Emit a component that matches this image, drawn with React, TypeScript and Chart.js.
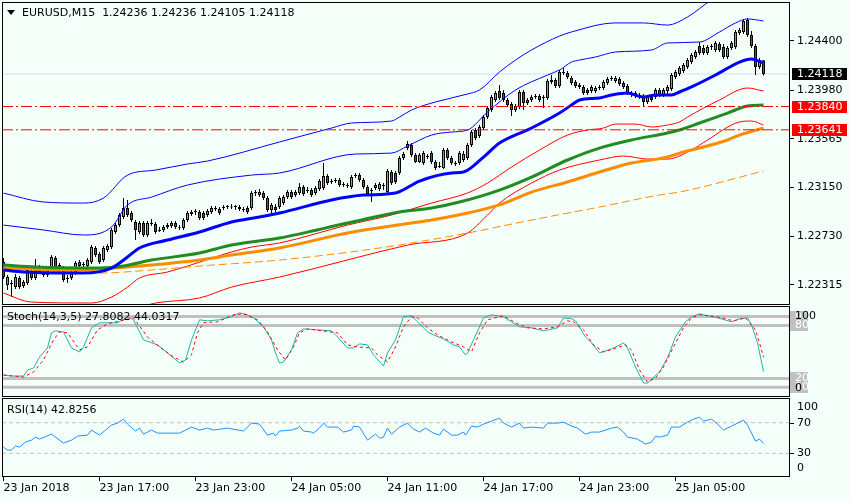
import React, { useEffect, useRef } from "react";
import { Chart, registerables } from "chart.js";

Chart.register(...registerables);

const FONT = '"DejaVu Sans", Verdana, sans-serif';
const BG = "#F5FFFA";

// ---------- texts ----------
const symbolTitle = "EURUSD,M15  1.24236 1.24236 1.24105 1.24118";
const stochTitle = "Stoch(14,3,5) 27.8082 44.0317";
const rsiTitle = "RSI(14) 42.8256";
const timeLabels = ["23 Jan 2018", "23 Jan 17:00", "23 Jan 23:00", "24 Jan 05:00", "24 Jan 11:00", "24 Jan 17:00", "24 Jan 23:00", "25 Jan 05:00"];
const timeTickBars = [0, 24, 48, 72, 96, 120, 144, 168];
const priceTicks = [1.244, 1.2398, 1.23565, 1.2315, 1.2273, 1.22315];
const stochLevels = [90, 80, 20, 10];
const stochScaleLabels = ["100", "0"];
const rsiLevels = [70, 30];
const rsiScaleLabels = ["100", "0"];

// ---------- candles (M15 bars) ----------
const opens = [
  1.22511,1.22314,1.22331,1.22297,1.22375,1.22306,1.22331,1.22426,1.22375,1.22468,
  1.22426,1.22400,1.22460,1.22546,1.22485,1.22460,1.22366,1.22375,1.22417,1.22511,
  1.22485,1.22477,1.22511,1.22631,1.22580,1.22528,1.22614,1.22639,1.22768,1.22827,
  1.22896,1.22973,1.22930,1.22853,1.22768,1.22844,1.22742,1.22836,1.22836,1.22776,
  1.22785,1.22810,1.22819,1.22844,1.22802,1.22802,1.22870,1.22922,1.22939,1.22939,
  1.22930,1.22913,1.22939,1.22964,1.22964,1.22973,1.22981,1.22981,1.22981,1.22981,
  1.22956,1.22973,1.22973,1.23101,1.23083,1.23101,1.23058,1.22956,1.22981,1.22981,
  1.23015,1.23066,1.23109,1.23083,1.23101,1.23152,1.23118,1.23126,1.23101,1.23135,
  1.23143,1.23246,1.23195,1.23203,1.23212,1.23169,1.23160,1.23152,1.23246,1.23254,
  1.23212,1.23152,1.23118,1.23143,1.23135,1.23160,1.23109,1.23280,1.23271,1.23271,
  1.23400,1.23486,1.23511,1.23425,1.23366,1.23357,1.23408,1.23442,1.23366,1.23323,
  1.23314,1.23468,1.23400,1.23357,1.23357,1.23383,1.23400,1.23511,1.23639,1.23588,
  1.23656,1.23750,1.23810,1.23896,1.23973,1.23955,1.23896,1.23862,1.23810,1.23836,
  1.23964,1.23870,1.23896,1.23921,1.23930,1.23913,1.23913,1.24049,1.24066,1.24015,
  1.24135,1.24126,1.24083,1.24049,1.24024,1.24007,1.23981,1.23973,1.23973,1.23998,
  1.23998,1.24041,1.24075,1.24058,1.24075,1.24041,1.24015,1.23955,1.23955,1.23938,
  1.23930,1.23879,1.23921,1.23921,1.23981,1.23938,1.23973,1.23990,1.24092,1.24118,
  1.24143,1.24177,1.24220,1.24263,1.24357,1.24340,1.24297,1.24348,1.24323,1.24374,
  1.24348,1.24263,1.24340,1.24348,1.24468,1.24477,1.24579,1.24451,1.24357,1.24177,
  1.24236,
];
const highs = [
  1.22546,1.22400,1.22357,1.22409,1.22392,1.22357,1.22460,1.22443,1.22537,1.22485,
  1.22443,1.22477,1.22571,1.22563,1.22502,1.22477,1.22400,1.22434,1.22519,1.22528,
  1.22511,1.22546,1.22656,1.22648,1.22597,1.22648,1.22665,1.22802,1.22844,1.22930,
  1.23058,1.23041,1.22947,1.22870,1.22861,1.22861,1.22861,1.22879,1.22853,1.22810,
  1.22827,1.22844,1.22861,1.22861,1.22827,1.22887,1.22947,1.22956,1.22964,1.22956,
  1.22947,1.22964,1.22990,1.22990,1.22981,1.22999,1.22999,1.23007,1.22999,1.22999,
  1.22981,1.22990,1.23118,1.23126,1.23135,1.23118,1.23075,1.23015,1.23007,1.23075,
  1.23083,1.23126,1.23126,1.23126,1.23186,1.23169,1.23152,1.23143,1.23160,1.23220,
  1.23357,1.23263,1.23220,1.23229,1.23229,1.23195,1.23186,1.23254,1.23272,1.23272,
  1.23229,1.23169,1.23143,1.23186,1.23195,1.23186,1.23306,1.23297,1.23289,1.23417,
  1.23451,1.23545,1.23528,1.23442,1.23442,1.23459,1.23434,1.23459,1.23383,1.23366,
  1.23486,1.23486,1.23417,1.23374,1.23459,1.23459,1.23528,1.23639,1.23656,1.23682,
  1.23767,1.23844,1.23938,1.23973,1.24024,1.23981,1.23913,1.23879,1.23862,1.23981,
  1.23981,1.23913,1.23938,1.23947,1.23947,1.23938,1.24075,1.24109,1.24083,1.24152,
  1.24169,1.24143,1.24100,1.24066,1.24041,1.24024,1.23998,1.24024,1.24015,1.24024,
  1.24066,1.24092,1.24100,1.24100,1.24092,1.24058,1.24032,1.23973,1.23973,1.23955,
  1.23947,1.23938,1.23938,1.23998,1.23998,1.23998,1.24024,1.24126,1.24152,1.24186,
  1.24212,1.24254,1.24297,1.24323,1.24391,1.24366,1.24366,1.24374,1.24400,1.24391,
  1.24374,1.24357,1.24400,1.24494,1.24511,1.24588,1.24596,1.24485,1.24374,1.24254,
  1.24236,
];
const lows = [
  1.22366,1.22272,1.22212,1.22280,1.22280,1.22289,1.22314,1.22357,1.22357,1.22409,
  1.22383,1.22383,1.22443,1.22451,1.22426,1.22340,1.22331,1.22357,1.22400,1.22460,
  1.22468,1.22460,1.22494,1.22554,1.22494,1.22511,1.22597,1.22622,1.22751,1.22810,
  1.22879,1.22896,1.22853,1.22699,1.22751,1.22725,1.22725,1.22819,1.22751,1.22768,
  1.22768,1.22793,1.22802,1.22793,1.22785,1.22785,1.22853,1.22905,1.22913,1.22870,
  1.22870,1.22896,1.22922,1.22947,1.22913,1.22956,1.22964,1.22964,1.22956,1.22947,
  1.22939,1.22922,1.22956,1.23075,1.23066,1.23041,1.22939,1.22922,1.22939,1.22964,
  1.22999,1.23049,1.23049,1.23066,1.23083,1.23075,1.23101,1.23066,1.23083,1.23118,
  1.23126,1.23169,1.23178,1.23186,1.23152,1.23152,1.23143,1.23135,1.23229,1.23195,
  1.23135,1.23075,1.23024,1.23126,1.23118,1.23126,1.23092,1.23169,1.23178,1.23254,
  1.23383,1.23468,1.23408,1.23357,1.23357,1.23340,1.23391,1.23349,1.23297,1.23314,
  1.23306,1.23383,1.23340,1.23331,1.23340,1.23366,1.23383,1.23494,1.23554,1.23571,
  1.23639,1.23733,1.23793,1.23879,1.23896,1.23879,1.23836,1.23759,1.23793,1.23819,
  1.23810,1.23853,1.23879,1.23904,1.23879,1.23827,1.23896,1.24032,1.23998,1.23998,
  1.24109,1.24075,1.24024,1.23998,1.23990,1.23938,1.23938,1.23955,1.23955,1.23981,
  1.23981,1.24024,1.24058,1.24041,1.24015,1.23990,1.23938,1.23921,1.23913,1.23904,
  1.23836,1.23862,1.23879,1.23904,1.23921,1.23921,1.23947,1.23973,1.24075,1.24100,
  1.24126,1.24160,1.24203,1.24246,1.24280,1.24280,1.24280,1.24323,1.24306,1.24306,
  1.24246,1.24246,1.24323,1.24331,1.24451,1.24460,1.24434,1.24340,1.24109,1.24160,
  1.24105,
];
const closes = [
  1.22383,1.22383,1.22323,1.22383,1.22297,1.22340,1.22443,1.22375,1.22460,1.22426,
  1.22400,1.22460,1.22554,1.22468,1.22443,1.22357,1.22375,1.22417,1.22502,1.22477,
  1.22494,1.22528,1.22639,1.22571,1.22511,1.22631,1.22648,1.22785,1.22827,1.22913,
  1.22973,1.22913,1.22870,1.22785,1.22844,1.22742,1.22844,1.22844,1.22768,1.22785,
  1.22810,1.22827,1.22844,1.22810,1.22799,1.22870,1.22930,1.22939,1.22942,1.22887,
  1.22887,1.22947,1.22973,1.22967,1.22930,1.22981,1.22984,1.22978,1.22984,1.22964,
  1.22959,1.22939,1.23101,1.23104,1.23109,1.23058,1.22956,1.22999,1.22956,1.23058,
  1.23066,1.23109,1.23066,1.23109,1.23152,1.23092,1.23126,1.23083,1.23143,1.23203,
  1.23246,1.23186,1.23203,1.23206,1.23169,1.23172,1.23163,1.23237,1.23254,1.23212,
  1.23152,1.23092,1.23126,1.23169,1.23178,1.23163,1.23289,1.23186,1.23195,1.23400,
  1.23434,1.23520,1.23425,1.23366,1.23425,1.23442,1.23411,1.23366,1.23314,1.23331,
  1.23468,1.23400,1.23357,1.23349,1.23442,1.23434,1.23511,1.23622,1.23571,1.23665,
  1.23750,1.23827,1.23921,1.23955,1.23913,1.23896,1.23853,1.23810,1.23844,1.23964,
  1.23870,1.23896,1.23921,1.23924,1.23896,1.23921,1.24058,1.24066,1.24015,1.24135,
  1.24126,1.24092,1.24041,1.24015,1.24007,1.23955,1.23955,1.24007,1.23998,1.24001,
  1.24049,1.24075,1.24078,1.24083,1.24032,1.24007,1.23955,1.23938,1.23930,1.23921,
  1.23879,1.23921,1.23896,1.23981,1.23938,1.23981,1.24007,1.24109,1.24135,1.24169,
  1.24195,1.24237,1.24280,1.24306,1.24297,1.24297,1.24348,1.24351,1.24383,1.24323,
  1.24263,1.24340,1.24383,1.24477,1.24494,1.24571,1.24451,1.24357,1.24177,1.24237,
  1.24118,
];

// ---------- indicator lines: [bar index, value] ----------
const bbOuter = [[0,1.231],[10,1.23024],[20,1.23015],[25,1.23058],[31,1.23254],[38,1.23297],[46,1.23349],[51,1.23374],[69,1.23537],[82,1.23656],[87,1.23699],[97,1.23716],[99,1.2375],[102,1.2381],[108,1.23879],[116,1.23947],[119,1.23981],[124,1.24135],[128,1.24237],[132,1.24323],[139,1.24442],[142,1.24477],[153,1.24554],[160,1.24554],[166,1.24536],[171,1.24605],[177,1.2475],[182,1.24835]];
const bbInner = [[0,1.22827],[10,1.22785],[20,1.22742],[27,1.2281],[31,1.22999],[37,1.23066],[46,1.23169],[62,1.23254],[69,1.23272],[88,1.23434],[97,1.23442],[101,1.23502],[107,1.23596],[112,1.23622],[116,1.23639],[121,1.23793],[128,1.23981],[136,1.24109],[139,1.24152],[142,1.2422],[144,1.24237],[148,1.24263],[153,1.24306],[162,1.24323],[166,1.24383],[174,1.24391],[179,1.24477],[183,1.24554],[186,1.24588],[190,1.24571]];
const bbMiddle = [[0,1.22443],[5,1.22426],[20,1.22417],[27,1.2246],[31,1.22554],[34,1.22631],[41,1.22699],[49,1.22768],[57,1.22853],[64,1.22896],[69,1.2293],[82,1.23041],[90,1.23083],[98,1.23101],[104,1.23203],[112,1.23272],[115,1.2328],[120,1.23408],[124,1.23528],[132,1.23656],[139,1.23784],[142,1.23853],[144,1.23896],[149,1.23913],[152,1.23938],[156,1.23955],[160,1.23921],[163,1.23938],[167,1.23938],[169,1.23964],[172,1.24007],[178,1.24109],[184,1.2422],[187,1.24246],[190,1.24212]];
const greenMA = [[0,1.22485],[8,1.22468],[24,1.2246],[30,1.22477],[37,1.22528],[49,1.22588],[57,1.22656],[69,1.22716],[86,1.22844],[99,1.22939],[107,1.22973],[114,1.23024],[124,1.23126],[132,1.23237],[141,1.23383],[149,1.23485],[157,1.23554],[166,1.23614],[169,1.23639],[174,1.23699],[181,1.23784],[186,1.23844],[190,1.23853]];
const orangeMA = [[0,1.2246],[16,1.22443],[24,1.22451],[37,1.22485],[49,1.22528],[57,1.22571],[69,1.22631],[86,1.22759],[102,1.22844],[107,1.2287],[116,1.2293],[124,1.22999],[132,1.23109],[141,1.23195],[149,1.2328],[157,1.23357],[162,1.23383],[166,1.23408],[169,1.23442],[172,1.23468],[181,1.23554],[184,1.23596],[190,1.23656]];
const orangeSlowMA = [[0,1.2246],[24,1.22417],[37,1.22443],[49,1.22477],[69,1.22528],[94,1.22631],[116,1.22759],[132,1.2287],[149,1.22981],[164,1.23084],[169,1.23109],[190,1.23289]];
const redBandUpper = [[0,1.22246],[7,1.22169],[22,1.22161],[27,1.22212],[31,1.22297],[34,1.22375],[41,1.22426],[46,1.22477],[57,1.22597],[62,1.22639],[69,1.22674],[86,1.22827],[97,1.22913],[107,1.23015],[116,1.23101],[121,1.23186],[127,1.23323],[134,1.23468],[141,1.23596],[146,1.23639],[150,1.23656],[153,1.2369],[158,1.2369],[162,1.23665],[166,1.23682],[169,1.23708],[171,1.2375],[179,1.23896],[186,1.23998],[190,1.23972]];
const redBandLower = [[35,1.22135],[38,1.22161],[49,1.22204],[57,1.22297],[69,1.22383],[101,1.22656],[116,1.22759],[121,1.22913],[124,1.23015],[132,1.23186],[139,1.23297],[149,1.23383],[155,1.23417],[161,1.23391],[166,1.23391],[172,1.23468],[176,1.23554],[184,1.23708],[187,1.23716],[190,1.23682]];
const levelPrices = [1.2384, 1.23641];
const bidPrice = 1.24118;

// ---------- oscillators: [bar index, value] ----------
const stochMain = [[0,23.9],[2,22.7],[5,22.7],[6,29.5],[7.5,31.8],[9,44.3],[11,54.5],[12,71.6],[13,73.9],[15,72.7],[17,54.5],[19,50],[20,55.7],[22,77.3],[24,83],[28.5,83],[31,89.8],[32.5,86.4],[35,63.6],[38.5,58],[41,48.9],[44,37.5],[45.5,40.9],[47,63.6],[49,86.4],[51,85.2],[54,86.4],[57,89.8],[59,94.3],[61,92],[62.5,88.6],[65,78.4],[67,63.6],[68,48.9],[69,37.5],[70,38.6],[72,52.3],[73.5,71.6],[75,76.1],[82,73.9],[83.5,67],[86,54.5],[87.5,54.5],[89,59.1],[91,58],[92.5,46.6],[95,34.1],[96,48.9],[98,63.6],[100,89.8],[102,90.9],[103.5,84.1],[106,72.7],[107.5,69.3],[110,64.8],[112.5,58],[114,55.7],[115.5,46.6],[116,48.9],[117.5,63.6],[120,88.6],[122,92],[125,89.8],[127,84.1],[129,78.4],[132,77.3],[135,73.9],[138.5,77.3],[140,88.6],[142,87.5],[143,85.2],[145.5,67],[147,60.2],[149,48.9],[152,53.4],[155,60.2],[156,54.5],[158,33],[160,14.8],[161,14.8],[164,27.3],[166,43.2],[168,67],[170.5,84.1],[172,89.8],[174,93.2],[176,90.9],[178.5,88.6],[182,84.1],[184,87.5],[186,88.6],[187,80.7],[188.5,60.2],[190,27.8082]];
const stochSignal = [[0,23.9],[5,21.6],[7.5,27.3],[10,40.9],[12.5,63.6],[14,72.7],[16,71.6],[19,52.3],[21,55.7],[23.5,75],[26,81.8],[32.5,88.6],[36,67],[39,55.7],[42.5,44.3],[45,38.6],[47,46.6],[48.5,71.6],[50,83],[53.5,84.1],[57.5,92],[60,93.2],[63.5,86.4],[66,72.7],[68.5,52.3],[70.5,40.9],[72.5,55.7],[74,71.6],[76,76.1],[83.5,71.6],[86,58],[88.5,55.7],[92,54.5],[93.5,46.6],[96,38.6],[98,55.7],[100,78.4],[102,89.8],[103.5,88.6],[106,77.3],[108.5,69.3],[112,61.4],[115,55.7],[117,50],[119,71.6],[121,86.4],[125,90.9],[128.5,81.8],[131,77.3],[135,76.1],[138.5,78.4],[141,85.2],[142.5,84.1],[145,75],[147.5,58],[150,50],[152.5,53.4],[155.5,58],[157,52.3],[159,29.5],[161,15.9],[163,20.5],[165,33],[167.5,55.7],[170,77.3],[172,88.6],[174,92],[178.5,89.8],[182.5,85.2],[185.5,88.6],[188,75],[189,60.2],[190,44.0317]];
const rsiValues = [[0,38.2],[1,34.3],[2,34.3],[3,39.5],[4,38.2],[5.5,44.7],[7,47.3],[8,51.2],[9,48.6],[12,55.1],[13,51.2],[15,43.4],[17,47.3],[18.5,52.5],[21,53.8],[22,60.4],[24,53.8],[25.5,60.4],[27,66.9],[28.5,69.5],[30,74.7],[31,68.2],[33,59.1],[34,63],[35,55.1],[37,60.4],[38.5,56.4],[41,56.4],[44,56.4],[47,64.3],[49,60.4],[51,63],[52.5,60.4],[56,63],[60,59.1],[62,69.5],[64,68.2],[66,53.8],[67.5,56.4],[68,52.5],[69,59.1],[72,60.4],[73.5,63],[74,65.6],[75,59.1],[77,57.8],[77.5,56.4],[79,63],[80,69.5],[81,64.3],[83.5,64.3],[85,57.8],[87,60.4],[87.5,65.6],[89,64.3],[91,47.3],[93,55.1],[94,49.9],[95,51.2],[96,63],[97,55.1],[99,64.3],[101,69.5],[102.5,61.7],[104,57.8],[105.5,63],[107.5,56.4],[109,53.8],[110,61.7],[112,53.8],[113.5,53.8],[115,57.8],[115.5,53.8],[117,65.6],[118.5,64.3],[120,68.2],[122,72.1],[124,76],[125,69.5],[127,64.3],[129,69.5],[130,63],[132,64.3],[135,63],[136,69.5],[138.5,69.5],[140,70.8],[142,65.6],[143.5,63],[145.5,55.1],[147,57.8],[149,57.8],[152,63],[153.5,64.3],[155,57.8],[156,51.2],[158.5,48.6],[160.5,42.1],[162,44.7],[163,52.5],[164,51.2],[166,53.8],[167,64.3],[169,64.3],[171,70.8],[172.5,74.7],[174,77.3],[175,72.1],[177,74.7],[178.5,68.2],[180,60.4],[182,65.6],[183.5,69.5],[185,73.4],[186,66.9],[188,46],[189,48.6],[190,42.8256]];

// ---------- scale domains ----------
const X_MIN = -0.375;
const X_MAX = 196.625;
const PRICE_MIN = 1.22144;
const PRICE_MAX = 1.24733;

const BULL = "#3CD23C";
const BEAR = "#D02020";

const xy = (pts: number[][]) => pts.map(([x, y]) => ({ x, y }));
const hline = (v: number) => [{ x: X_MIN, y: v }, { x: X_MAX, y: v }];
const lineDs = (label: string, data: any[], color: string, width: number, order: number, dash: number[] = [], smooth = false) => ({
  type: "line",
  label,
  data,
  borderColor: color,
  borderWidth: width,
  borderDash: dash,
  pointRadius: 0,
  tension: 0,
  cubicInterpolationMode: smooth ? "monotone" : "default",
  fill: false,
  order,
  borderJoinStyle: "round",
});

const framePlugin = {
  id: "frame",
  afterDraw(chart: any) {
    const { ctx, chartArea: a } = chart;
    ctx.save();
    ctx.strokeStyle = "#000";
    ctx.lineWidth = 1;
    ctx.strokeRect(Math.round(a.left) + 0.5, Math.round(a.top) + 0.5, Math.round(a.right - a.left) - 1, Math.round(a.bottom - a.top) - 1);
    ctx.restore();
  },
};

const xHidden = { type: "linear", min: X_MIN, max: X_MAX, display: false, offset: false, grid: { offset: false } };

function mainConfig(): any {
  const wickData = opens.map((_, i) => ({ x: i, y: [lows[i], highs[i]] }));
  const bodyData = opens.map((o, i) => ({ x: i, y: [o, closes[i]] }));
  const bodyColors = opens.map((o, i) => (closes[i] >= o ? BULL : BEAR));
  const mainText = {
    id: "mainText",
    afterDraw(chart: any) {
      const { ctx, chartArea: a, scales } = chart;
      ctx.save();
      ctx.fillStyle = "#000";
      ctx.beginPath();
      ctx.moveTo(a.left + 5, a.top + 8);
      ctx.lineTo(a.left + 13, a.top + 8);
      ctx.lineTo(a.left + 9, a.top + 13);
      ctx.closePath();
      ctx.fill();
      ctx.font = `11px ${FONT}`;
      ctx.textBaseline = "middle";
      ctx.textAlign = "left";
      ctx.fillText(symbolTitle, a.left + 20, a.top + 11);
      const boxes = [
        { v: bidPrice, bg: "#000000" },
        { v: levelPrices[0], bg: "#FF0000" },
        { v: levelPrices[1], bg: "#FF0000" },
      ];
      boxes.forEach((b) => {
        const py = Math.round(scales.y.getPixelForValue(b.v));
        ctx.fillStyle = b.bg;
        ctx.fillRect(a.right + 2, py - 6, 55, 12);
        ctx.fillStyle = "#FFFFFF";
        ctx.fillText(b.v.toFixed(5), a.right + 7, py);
      });
      ctx.restore();
    },
  };
  return {
    type: "bar",
    data: {
      datasets: [
        lineDs("bid", hline(bidPrice), "#D3DBE6", 1, 40),
        { type: "bar", label: "wicks", data: wickData, backgroundColor: "#000", borderWidth: 0, barThickness: 1, grouped: false, order: 30, inflateAmount: 0 },
        { type: "bar", label: "bodies", data: bodyData, backgroundColor: bodyColors, borderColor: "#000", borderWidth: 1, borderSkipped: false, barThickness: 3, grouped: false, order: 29, minBarLength: 1, inflateAmount: 0 },
        lineDs("redLower", xy(redBandLower), "#FF0000", 1, 12, [], true),
        lineDs("redUpper", xy(redBandUpper), "#FF0000", 1, 11, [], true),
        lineDs("orangeSlow", xy(orangeSlowMA), "#FF8C00", 1, 10, [8, 4], true),
        lineDs("orange", xy(orangeMA), "#FF8C00", 3, 9, [], true),
        lineDs("green", xy(greenMA), "#228B22", 3, 8, [], true),
        lineDs("bbMid", xy(bbMiddle), "#0000FF", 3, 7, [], true),
        lineDs("bbInner", xy(bbInner), "#0000FF", 1, 6, [], true),
        lineDs("bbOuter", xy(bbOuter), "#0000FF", 1, 5, [], true),
        lineDs("level1", hline(levelPrices[0]), "#FF0000", 1, 2, [11, 3, 2, 3]),
        lineDs("level2", hline(levelPrices[1]), "#FF0000", 1, 1, [11, 3, 2, 3]),
      ],
    },
    options: {
      animation: false,
      responsive: false,
      devicePixelRatio: 1,
      events: [],
      layout: { padding: { left: 2, top: 2, right: 0, bottom: 0 } },
      plugins: { legend: { display: false }, tooltip: { enabled: false }, title: { display: false } },
      scales: {
        x: xHidden,
        y: {
          type: "linear",
          position: "right",
          min: PRICE_MIN,
          max: PRICE_MAX,
          afterBuildTicks: (s: any) => {
            s.ticks = priceTicks.map((v) => ({ value: v }));
          },
          afterFit: (s: any) => {
            s.width = 60;
            s.paddingTop = 0;
            s.paddingBottom = 0;
          },
          ticks: { autoSkip: false, padding: 3, color: "#000", font: { family: FONT, size: 11 }, callback: (v: any) => Number(v).toFixed(5) },
          grid: { drawOnChartArea: false, drawTicks: true, tickLength: 4, color: "#000", tickColor: "#000" },
          border: { display: false },
        },
      },
    },
    plugins: [framePlugin, mainText],
  };
}

function stochConfig(): any {
  const stochText = {
    id: "stochText",
    afterDraw(chart: any) {
      const { ctx, chartArea: a, scales } = chart;
      ctx.save();
      ctx.font = `11px ${FONT}`;
      ctx.textBaseline = "middle";
      ctx.textAlign = "left";
      ctx.fillStyle = "#000";
      ctx.fillText(stochTitle, a.left + 5, a.top + 11);
      stochLevels.forEach((v) => {
        const py = Math.round(scales.y.getPixelForValue(v));
        ctx.fillStyle = "#C0C0C0";
        ctx.fillRect(a.right, py - 6, 18, 12);
        ctx.fillStyle = "#FFFFFF";
        ctx.fillText(String(v), a.right + 5, py);
      });
      ctx.fillStyle = "#000";
      ctx.fillText(stochScaleLabels[0], a.right + 5, a.top + 10);
      ctx.fillText(stochScaleLabels[1], a.right + 5, a.bottom - 9);
      ctx.restore();
    },
  };
  return {
    type: "line",
    data: {
      datasets: [
        ...stochLevels.map((v, i) => lineDs("lvl" + i, hline(v), "#C0C0C0", 3, 10)),
        lineDs("main", xy(stochMain), "#20B2AA", 1, 2),
        lineDs("signal", xy(stochSignal), "#FF0000", 1, 1, [3, 3]),
      ],
    },
    options: {
      animation: false,
      responsive: false,
      devicePixelRatio: 1,
      events: [],
      layout: { padding: { left: 2, top: 1, right: 60, bottom: 1 } },
      plugins: { legend: { display: false }, tooltip: { enabled: false } },
      scales: {
        x: xHidden,
        y: { type: "linear", min: -1, max: 102, display: false },
      },
    },
    plugins: [framePlugin, stochText],
  };
}

function rsiConfig(): any {
  const rsiText = {
    id: "rsiText",
    afterDraw(chart: any) {
      const { ctx, chartArea: a, scales } = chart;
      ctx.save();
      ctx.font = `11px ${FONT}`;
      ctx.textBaseline = "middle";
      ctx.textAlign = "left";
      ctx.fillStyle = "#000";
      ctx.fillText(rsiTitle, a.left + 5, a.top + 12);
      ctx.fillText(rsiScaleLabels[0], a.right + 7, a.top + 9);
      ctx.fillText(rsiScaleLabels[1], a.right + 7, a.bottom - 9);
      ctx.strokeStyle = "#000";
      ctx.lineWidth = 1;
      rsiLevels.forEach((v) => {
        const py = Math.round(scales.y.getPixelForValue(v));
        ctx.fillText(String(v), a.right + 7, py);
        ctx.beginPath();
        ctx.moveTo(a.right, py + 0.5);
        ctx.lineTo(a.right + 4, py + 0.5);
        ctx.stroke();
      });
      ctx.restore();
    },
  };
  return {
    type: "line",
    data: {
      datasets: [
        ...rsiLevels.map((v, i) => lineDs("lvl" + i, hline(v), "#C0C0C0", 1, 10, [4, 3])),
        lineDs("rsi", xy(rsiValues), "#1E90FF", 1, 1),
      ],
    },
    options: {
      animation: false,
      responsive: false,
      devicePixelRatio: 1,
      events: [],
      layout: { padding: { left: 2, top: 1, right: 60, bottom: 0 } },
      plugins: { legend: { display: false }, tooltip: { enabled: false } },
      scales: {
        x: {
          type: "linear",
          min: X_MIN,
          max: X_MAX,
          position: "bottom",
          offset: false,
          afterBuildTicks: (s: any) => {
            s.ticks = timeTickBars.map((v) => ({ value: v }));
          },
          afterFit: (s: any) => {
            s.height = 23;
            s.paddingLeft = 0;
            s.paddingRight = 0;
          },
          ticks: {
            autoSkip: false,
            maxRotation: 0,
            minRotation: 0,
            align: "start",
            padding: 1,
            color: "#000",
            font: { family: FONT, size: 11 },
            callback: (_v: any, i: number) => timeLabels[i],
          },
          grid: { drawOnChartArea: false, drawTicks: true, tickLength: 4, color: "#000", tickColor: "#000", offset: false },
          border: { display: false },
        },
        y: { type: "linear", min: -0.9, max: 102.3, display: false },
      },
    },
    plugins: [framePlugin, rsiText],
  };
}

export default function App() {
  const mainRef = useRef<HTMLCanvasElement>(null);
  const stochRef = useRef<HTMLCanvasElement>(null);
  const rsiRef = useRef<HTMLCanvasElement>(null);

  useEffect(() => {
    document.body.style.margin = "0";
    document.body.style.background = BG;
    Chart.defaults.font.family = FONT;
    Chart.defaults.color = "#000";
    const charts = [
      new Chart(mainRef.current as HTMLCanvasElement, mainConfig()),
      new Chart(stochRef.current as HTMLCanvasElement, stochConfig()),
      new Chart(rsiRef.current as HTMLCanvasElement, rsiConfig()),
    ];
    return () => charts.forEach((c) => c.destroy());
  }, []);

  return (
    <div style={{ position: "relative", width: 850, height: 500, background: BG, overflow: "hidden" }}>
      <canvas ref={mainRef} width={850} height={305} style={{ position: "absolute", left: 0, top: 0, display: "block" }} />
      <canvas ref={stochRef} width={850} height={93} style={{ position: "absolute", left: 0, top: 305, display: "block" }} />
      <canvas ref={rsiRef} width={850} height={103} style={{ position: "absolute", left: 0, top: 397, display: "block" }} />
    </div>
  );
}
